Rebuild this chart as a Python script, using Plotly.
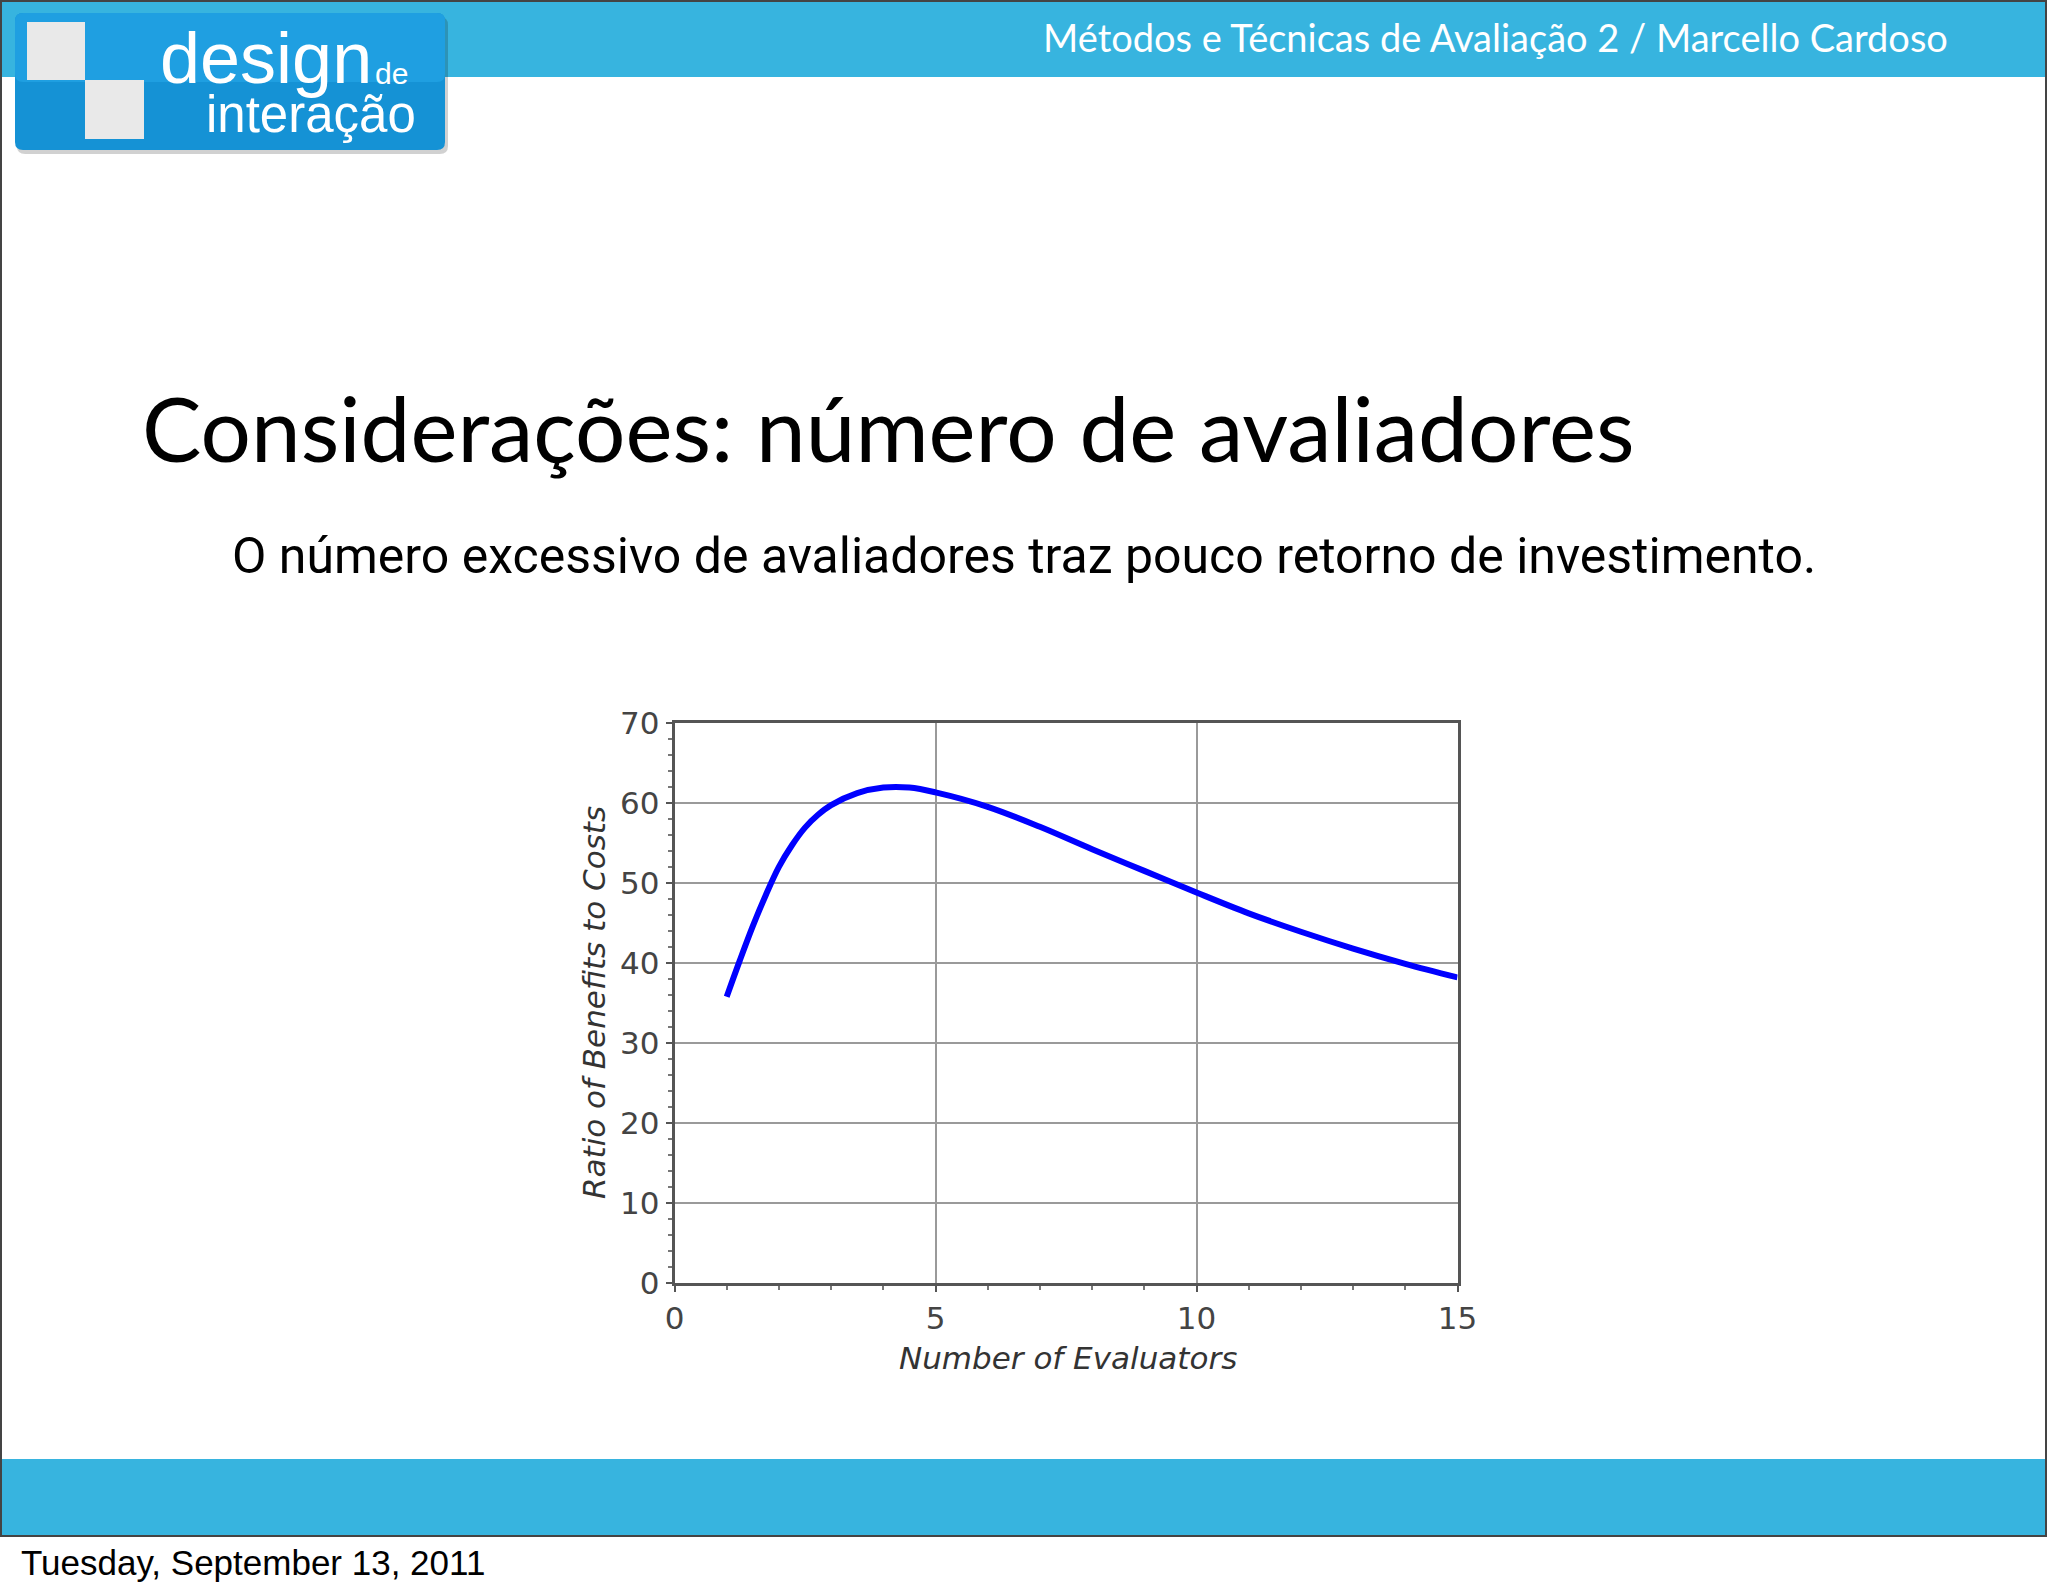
import plotly.graph_objects as go

# ---- data ----
evaluators = [1, 1.25, 1.5, 1.75, 2, 2.25, 2.5, 2.75, 3, 3.5, 4, 4.5, 5, 6, 7, 8, 9, 10, 11, 12, 13, 14, 15]
ratio = [35.8, 40.3, 44.6, 48.5, 52.0, 54.7, 56.9, 58.5, 59.7, 61.2, 61.9, 61.9, 61.3, 59.5, 57.0, 54.2,
         51.5, 48.8, 46.2, 43.9, 41.8, 39.9, 38.2]
x_ticks = [0, 5, 10, 15]
y_ticks = [0, 10, 20, 30, 40, 50, 60, 70]

W, H = 2048, 1593

def px(x):
    return x / W

def py(y):
    return 1 - y / H

fig = go.Figure()
fig.add_trace(go.Scatter(
    x=evaluators, y=ratio, mode="lines",
    line=dict(color="#0000ff", width=6, shape="spline", smoothing=1.0),
    hoverinfo="skip", showlegend=False,
))

tick_font = dict(family="DejaVu Sans, Verdana, sans-serif", size=31, color="#444444")
title_family = "DejaVu Sans, Verdana, sans-serif"

fig.update_layout(
    template="none",
    width=W, height=H, autosize=False,
    margin=dict(l=0, r=0, t=0, b=0, pad=0, autoexpand=False),
    paper_bgcolor="white", plot_bgcolor="white",
    showlegend=False,
    xaxis=dict(
        domain=[px(674.5), px(1457.5)], range=[0, 15], automargin=False,
        tickvals=x_ticks, ticks="outside", ticklen=6, tickwidth=2, tickcolor="#555555",
        showline=True, linecolor="#555555", linewidth=2.5, mirror=True,
        showgrid=True, gridcolor="#9a9a9a", gridwidth=2,
        zeroline=False, tickfont=tick_font,
        minor=dict(dtick=1, ticks="outside", ticklen=4, tickcolor="#777777", showgrid=False),
    ),
    yaxis=dict(
        domain=[py(1283.4), py(722.7)], range=[0, 70], automargin=False,
        tickvals=y_ticks, ticks="outside", ticklen=6, tickwidth=2, tickcolor="#555555",
        showline=True, linecolor="#555555", linewidth=2.5, mirror=True,
        showgrid=True, gridcolor="#9a9a9a", gridwidth=2,
        zeroline=False, tickfont=tick_font,
        minor=dict(dtick=2, ticks="outside", ticklen=4, tickcolor="#777777", showgrid=False),
    ),
)

shapes = []
# slide frame
shapes.append(dict(type="rect", xref="paper", yref="paper",
                   x0=px(1), x1=px(2046), y0=py(1536), y1=py(1),
                   line=dict(color="#444444", width=2), fillcolor="rgba(0,0,0,0)", layer="below"))
# header and footer bands
shapes.append(dict(type="rect", xref="paper", yref="paper",
                   x0=px(2), x1=px(2045), y0=py(77), y1=py(2),
                   line=dict(width=0), fillcolor="#37b4df", layer="below"))
shapes.append(dict(type="rect", xref="paper", yref="paper",
                   x0=px(2), x1=px(2045), y0=py(1535), y1=py(1459),
                   line=dict(width=0), fillcolor="#37b4df", layer="below"))

def rounded(x0, y0, x1, y1, r):
    X = lambda v: px(v)
    Y = lambda v: py(v)
    return (f"M {X(x0+r)},{Y(y0)} L {X(x1-r)},{Y(y0)} Q {X(x1)},{Y(y0)} {X(x1)},{Y(y0+r)} "
            f"L {X(x1)},{Y(y1-r)} Q {X(x1)},{Y(y1)} {X(x1-r)},{Y(y1)} L {X(x0+r)},{Y(y1)} "
            f"Q {X(x0)},{Y(y1)} {X(x0)},{Y(y1-r)} L {X(x0)},{Y(y0+r)} Q {X(x0)},{Y(y0)} {X(x0+r)},{Y(y0)} Z")

# logo shadow and box
shapes.append(dict(type="path", xref="paper", yref="paper", path=rounded(17, 17, 448, 154, 8),
                   line=dict(width=0), fillcolor="rgba(0,0,0,0.18)", layer="below"))
shapes.append(dict(type="path", xref="paper", yref="paper", path=rounded(15, 13, 445, 150, 8),
                   line=dict(width=0), fillcolor="#1592d5", layer="below"))
shapes.append(dict(type="path", xref="paper", yref="paper", path=rounded(15, 13, 445, 82, 8),
                   line=dict(width=0), fillcolor="#1f9fe1", layer="below"))
# squares
shapes.append(dict(type="rect", xref="paper", yref="paper",
                   x0=px(27), x1=px(85), y0=py(80), y1=py(22),
                   line=dict(width=0), fillcolor="#e9e9e9", layer="below"))
shapes.append(dict(type="rect", xref="paper", yref="paper",
                   x0=px(85), x1=px(144), y0=py(139), y1=py(80),
                   line=dict(width=0), fillcolor="#e9e9e9", layer="below"))
fig.update_layout(shapes=shapes)

ann = []
def text(t, x, y, size, family, color="black", xanchor="left", yanchor="middle", angle=0, style="normal"):
    ann.append(dict(text=t, x=px(x), y=py(y), xref="paper", yref="paper",
                    xanchor=xanchor, yanchor=yanchor, showarrow=False, textangle=angle,
                    font=dict(family=family, size=size, color=color, style=style)))

arial = "Liberation Sans, Arial, sans-serif"
text("Métodos e Técnicas de Avaliação 2 / Marcello Cardoso", 1950, 37, 38, "Lato, sans-serif", "white",
     xanchor="right")
text("design", 158, 58, 72, arial, "white")
text("de", 373, 73, 30, arial, "white")
text("interação", 204, 115, 51, arial, "white")
text("Considerações: número de avaliadores", 140, 427, 89, "Lato, sans-serif", "black")
text("O número excessivo de avaliadores traz pouco retorno de investimento.", 1024, 556, 50,
     "Roboto, sans-serif", "black", xanchor="center")
text("Tuesday, September 13, 2011", 19, 1562, 35, arial, "black")
# axis titles
text("Number of Evaluators", 1068, 1358, 31, title_family, "#333333", xanchor="center",
     style="italic")
text("Ratio of Benefits to Costs", 594, 1003, 31, title_family, "#333333", xanchor="center",
     angle=-90, style="italic")
fig.update_layout(annotations=ann)

fig.write_html(
    "out.html",
    config={"displayModeBar": False},
    post_script=("document.documentElement.style.margin='0';document.body.style.margin='0';"
                 "document.documentElement.style.overflow='hidden';document.body.style.overflow='hidden';"),
)
